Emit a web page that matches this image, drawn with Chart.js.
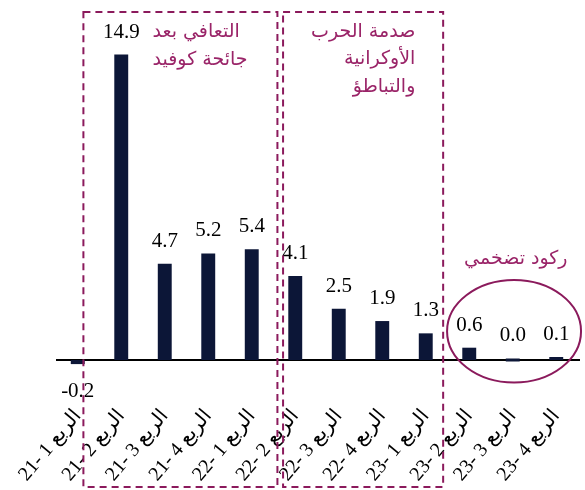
<!DOCTYPE html>
<html lang="ar">
<head>
  <meta charset="UTF-8">
  <title>GDP growth by quarter</title>
  <script src="https://cdn.jsdelivr.net/npm/chart.js"></script>
  <style>
    html, body { margin: 0; padding: 0; background: #fff; }
    .chart-container { width: 585px; height: 490px; }
    canvas { direction: rtl; }
  </style>
</head>
<body>
  <div class="chart-container">
    <canvas id="growthChart" width="585" height="490"></canvas>
  </div>

  <script>
    const categories = [
      'الربع 1 -21', 'الربع 2 -21', 'الربع 3 -21', 'الربع 4 -21',
      'الربع 1 -22', 'الربع 2 -22', 'الربع 3 -22', 'الربع 4 -22',
      'الربع 1 -23', 'الربع 2 -23', 'الربع 3 -23', 'الربع 4 -23'
    ];
    const growth = [-0.2, 14.9, 4.7, 5.2, 5.4, 4.1, 2.5, 1.9, 1.3, 0.6, 0.0, 0.1];

    const phaseTitles = [
      ['التعافي بعد', 'جائحة كوفيد'],
      ['صدمة الحرب', 'الأوكرانية', 'والتباطؤ']
    ];
    const stagflationTitle = 'ركود تضخمي';

    const frameColor = '#8b1a5c';
    const noteColor = '#9a2468';

    // zero line goes under the bars
    const zeroLinePlugin = {
      id: 'zeroLine',
      beforeDatasetsDraw(chart) {
        const ctx = chart.ctx;
        const area = chart.chartArea;
        const y0 = chart.scales.y.getPixelForValue(0);
        ctx.save();
        ctx.strokeStyle = '#000';
        ctx.lineWidth = 2;
        ctx.beginPath();
        ctx.moveTo(area.left, y0);
        ctx.lineTo(area.right + 2, y0);
        ctx.stroke();
        ctx.restore();
      }
    };

    // value labels and the dashed phase boxes
    const overlayPlugin = {
      id: 'overlay',
      afterDatasetsDraw(chart) {
        const ctx = chart.ctx;
        const x = chart.scales.x;
        const y = chart.scales.y;
        const y0 = y.getPixelForValue(0);

        ctx.save();
        ctx.direction = 'ltr';

        // value labels
        ctx.fillStyle = '#000';
        ctx.font = '21px "Liberation Serif", "Times New Roman", serif';
        ctx.textAlign = 'center';
        ctx.textBaseline = 'alphabetic';
        chart.getDatasetMeta(0).data.forEach((bar, i) => {
          const v = growth[i];
          const ty = v < 0 ? y0 + 37 : Math.min(bar.y, y0 - 2) - 17;
          ctx.fillText(v.toFixed(1), bar.x, ty);
        });

        // dashed boxes
        ctx.strokeStyle = frameColor;
        ctx.lineWidth = 2;
        ctx.setLineDash([7, 5]);
        const boxes = [[0.13, 4.59], [4.72, 8.4]];
        boxes.forEach(b => {
          const l = x.getPixelForValue(b[0]);
          const r = x.getPixelForValue(b[1]);
          const t = y.getPixelForValue(16.98);
          const btm = y.getPixelForValue(-6.2);
          ctx.strokeRect(l, t, r - l, btm - t);
        });
        ctx.setLineDash([]);

        // ellipse round the last three quarters
        const cx = x.getPixelForValue(10.03);
        const cy = y.getPixelForValue(1.4);
        const rx = x.getPixelForValue(11.57) - cx;
        const ry = y.getPixelForValue(1.4) - y.getPixelForValue(3.9);
        ctx.beginPath();
        ctx.ellipse(cx, cy, rx, ry, 0, 0, Math.PI * 2);
        ctx.stroke();

        // notes
        ctx.fillStyle = noteColor;
        ctx.font = '19px "DejaVu Sans", "Noto Sans", sans-serif';
        ctx.direction = 'rtl';
        ctx.textAlign = 'left';
        ctx.textBaseline = 'middle';
        phaseTitles[0].forEach((line, i) => {
          ctx.fillText(line, x.getPixelForValue(1.72), 32 + i * 28);
        });
        ctx.textAlign = 'right';
        phaseTitles[1].forEach((line, i) => {
          ctx.fillText(line, x.getPixelForValue(7.76), 32 + i * 27.5);
        });
        ctx.textAlign = 'center';
        ctx.fillText(stagflationTitle, x.getPixelForValue(10.07), y.getPixelForValue(4.9));
        ctx.restore();
      }
    };

    const ctx = document.getElementById('growthChart').getContext('2d');
    new Chart(ctx, {
      type: 'bar',
      data: {
        labels: categories,
        datasets: [{
          data: growth,
          backgroundColor: '#0c1637',
          borderWidth: 0,
          categoryPercentage: 1,
          barPercentage: 0.32,
          minBarLength: 3
        }]
      },
      options: {
        responsive: false,
        animation: false,
        devicePixelRatio: 1,
        layout: { padding: { left: 56, right: 7, top: 32, bottom: 0 } },
        plugins: {
          legend: { display: false },
          tooltip: { enabled: false }
        },
        scales: {
          x: {
            grid: { display: false, drawTicks: false },
            border: { display: false },
            afterFit(scale) { scale.height = 89; },
            ticks: {
              color: '#000',
              font: { family: '"Liberation Serif", "DejaVu Sans", serif', size: 20 },
              minRotation: 50,
              maxRotation: 50,
              padding: 4,
              autoSkip: false
            }
          },
          y: {
            display: false,
            min: -2,
            max: 16
          }
        }
      },
      plugins: [zeroLinePlugin, overlayPlugin]
    });
  </script>
</body>
</html>
